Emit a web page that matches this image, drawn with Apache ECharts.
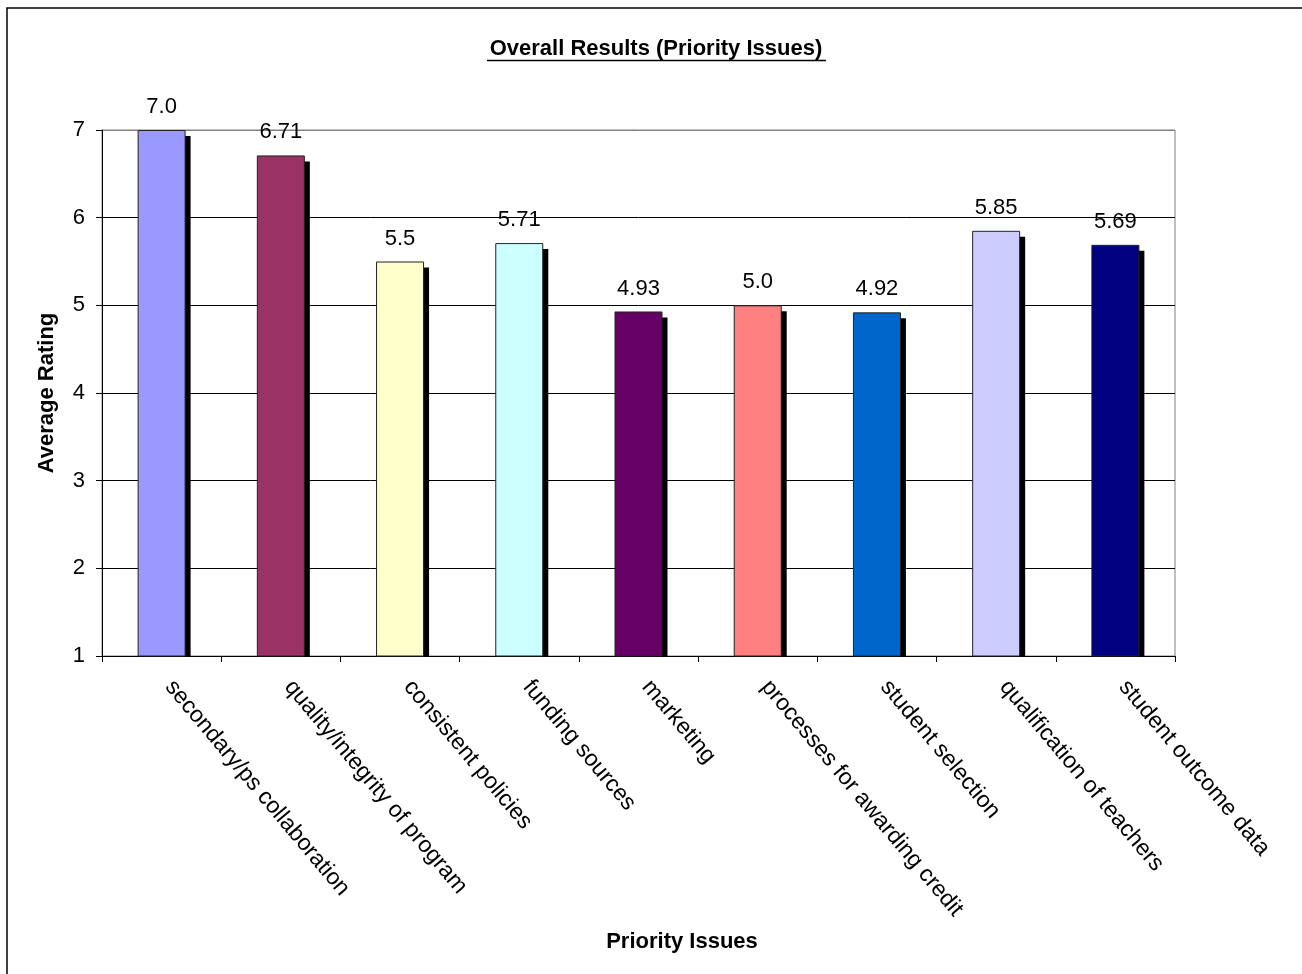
<!DOCTYPE html>
<html>
<head>
<meta charset="utf-8">
<style>
  html, body { margin: 0; padding: 0; background: #fff; }
  #chart { width: 1302px; height: 974px; }
</style>
<script src="https://cdn.jsdelivr.net/npm/echarts@6/dist/echarts.min.js"></script>
</head>
<body>
<div id="chart"></div>
<script>
// Priority issues and their average ratings
var categories = [
  'secondary/ps collaboration',
  'quality/integrity of program',
  'consistent policies',
  'funding sources',
  'marketing',
  'processes for awarding credit',
  'student selection',
  'qualification of teachers',
  'student outcome data'
];
var ratings = [7.0, 6.71, 5.5, 5.71, 4.93, 5.0, 4.92, 5.85, 5.69];
var ratingLabels = ['7.0', '6.71', '5.5', '5.71', '4.93', '5.0', '4.92', '5.85', '5.69'];
var barColors = ['#9999FF', '#993366', '#FFFFCC', '#CCFFFF', '#660066', '#FF8080', '#0066CC', '#CCCCFF', '#000080'];
var yTicks = [1, 2, 3, 4, 5, 6, 7];

var FONT = '"Liberation Sans", Arial, sans-serif';
var FS = 22;
var chart = echarts.init(document.getElementById('chart'), null, { renderer: 'canvas' });

var BAR_W = 48;

chart.setOption({
  backgroundColor: '#fff',
  animation: false,
  grid: {
    left: 102, top: 130, right: 127, bottom: 318,
    show: true, borderColor: '#808080', borderWidth: 1
  },
  graphic: [
    { type: 'rect', shape: { x: 7, y: 8, width: 1400, height: 1100 },
      style: { fill: 'none', stroke: '#000', lineWidth: 1.5 }, z: 100 },
    { type: 'text', x: 656, y: 49,
      style: { text: 'Overall Results (Priority Issues)', font: 'bold ' + FS + 'px ' + FONT, fill: '#000',
               textAlign: 'center', textVerticalAlign: 'middle' } },
    { type: 'line', shape: { x1: 487, y1: 60.5, x2: 826, y2: 60.5 },
      style: { stroke: '#000', lineWidth: 1.5 } },
    { type: 'text', x: 682, y: 942,
      style: { text: 'Priority Issues', font: 'bold ' + FS + 'px ' + FONT, fill: '#000',
               textAlign: 'center', textVerticalAlign: 'middle' } }
  ],
  xAxis: {
    type: 'category',
    data: categories,
    axisLine: { lineStyle: { color: '#000', width: 1 } },
    axisTick: { show: true, alignWithLabel: false, length: 6, lineStyle: { color: '#000' } },
    axisLabel: {
      rotate: -50, interval: 0, margin: 18, padding: [0, 0, 0, 12],
      fontFamily: FONT, fontSize: 23, color: '#000'
    },
    splitLine: { show: false }
  },
  yAxis: {
    type: 'value',
    min: yTicks[0], max: yTicks[yTicks.length - 1], interval: 1,
    name: 'Average Rating', nameLocation: 'middle', nameGap: 44, nameRotate: 90,
    nameTextStyle: { fontFamily: FONT, fontSize: FS, fontWeight: 'bold', color: '#000' },
    axisLine: { show: true, lineStyle: { color: '#000', width: 1 } },
    axisTick: { show: true, length: 6, lineStyle: { color: '#000' } },
    axisLabel: { margin: 17, fontFamily: FONT, fontSize: FS, color: '#000' },
    splitLine: { show: true, lineStyle: {
      color: ['#000', '#000', '#000', '#000', '#000', '#000', '#808080'], width: 1 } }
  },
  series: [
    {
      // drop shadow behind each bar, clipped at the category axis
      type: 'custom',
      data: ratings.map(function (v, i) { return [i, v]; }),
      z: 1,
      silent: true,
      renderItem: function (params, api) {
        var top = api.coord([api.value(0), api.value(1)]);
        var base = api.coord([api.value(0), yTicks[0]]);
        var x = top[0] - BAR_W / 2 + 5;
        var y = top[1] + 6;
        return {
          type: 'rect',
          shape: { x: x, y: y, width: BAR_W, height: Math.max(0, base[1] - y) },
          style: { fill: '#000' }
        };
      }
    },
    {
      type: 'bar',
      z: 2,
      barWidth: BAR_W,
      data: ratings.map(function (v, i) {
        return { value: v, itemStyle: { color: barColors[i] } };
      }),
      itemStyle: { borderColor: '#222', borderWidth: 1 },
      label: {
        show: true, position: 'top', distance: 12,
        fontFamily: FONT, fontSize: FS, color: '#000',
        formatter: function (p) { return ratingLabels[p.dataIndex]; }
      }
    }
  ]
});
</script>
</body>
</html>
